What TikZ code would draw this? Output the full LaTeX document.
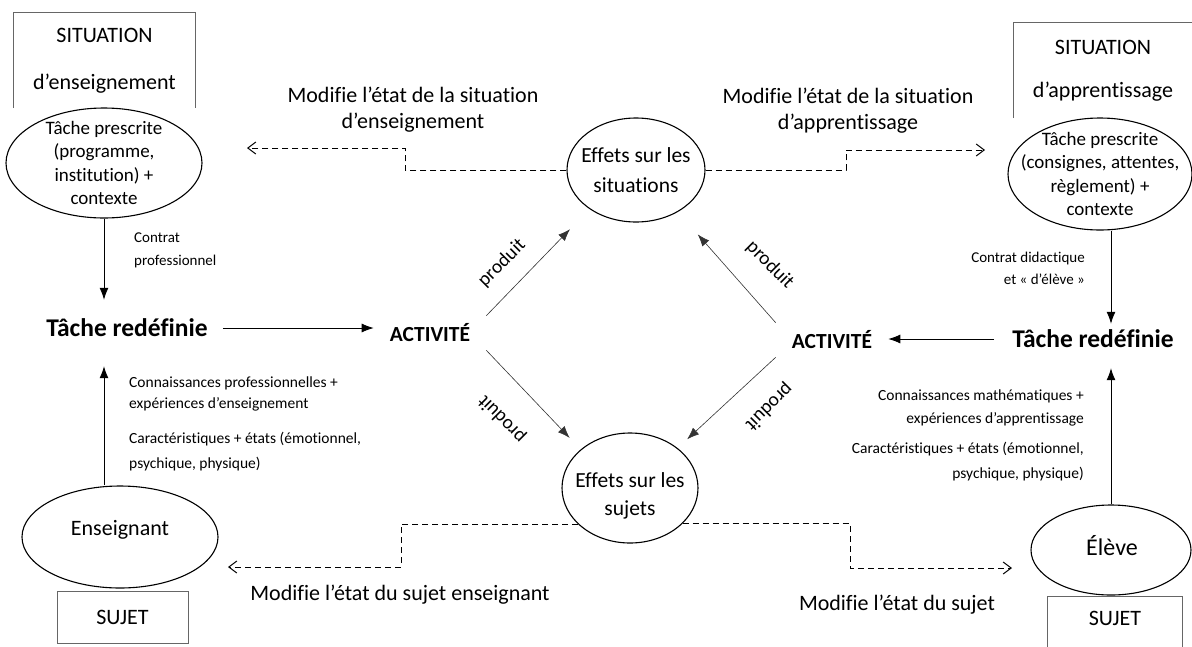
\documentclass[tikz,border=0pt]{standalone}
\usepackage{fontspec}
\setmainfont{Carlito}[Ligatures={NoCommon,NoContextual}]
\usetikzlibrary{shapes.geometric,arrows.meta}

\begin{document}
\begin{tikzpicture}[
	x=1pt, y=-1pt,
	oval/.style={draw, ellipse, fill=white, line width=1.1pt, inner sep=0pt},
	txt/.style={align=center, inner sep=0pt, font=\fontsize{19}{23.5}\selectfont},
	cadre/.style={align=center, inner sep=0pt, font=\fontsize{22}{47}\selectfont},
	trait/.style={line width=0.8pt, black!60},
	gras/.style={inner sep=2pt, font=\fontsize{25.5}{28}\selectfont\bfseries},
	act/.style={inner xsep=16pt, inner ysep=8pt, font=\fontsize{21.5}{24}\selectfont\bfseries},
	petit/.style={inner sep=0pt, font=\fontsize{15}{22}\selectfont},
	modif/.style={align=center, inner sep=0pt, font=\fontsize{22}{26}\selectfont},
	rot/.style={inner sep=0pt, font=\fontsize{19.5}{22}\selectfont},
	fl/.style={line width=0.8pt, -{Latex[length=12pt,width=9pt]}},
	prod/.style={line width=0.6pt, black!80, -{Latex[length=12pt,width=9pt]}},
	pointille/.style={line width=1pt, dash pattern=on 6pt off 4pt, -{Straight Barb[length=8pt,width=12pt]}}
	]
	\useasboundingbox (0,0) rectangle (1192,646);
	% situations
	\node[cadre, minimum width=181pt, minimum height=95pt] (sitL) at (104.5,60.5) {SITUATION\\d’enseignement};
	\draw[trait] (sitL.south west) |- (sitL.north east) -- (sitL.south east);
	\node[cadre, minimum width=178pt, minimum height=95pt, font=\fontsize{22}{43}\selectfont] (sitR) at (1103,70.5) {SITUATION\\d’apprentissage};
	\draw[trait] (sitR.south west) |- (sitR.north east);

	\node[oval, minimum width=196pt, minimum height=110pt] (taskPL) at (104,163) {};
	\node[txt] (taskPLt) at (taskPL) {Tâche prescrite\\(programme,\\institution) +\\contexte};
	\node[oval, minimum width=184pt, minimum height=112pt] (taskPR) at (1100,174) {};
	\node[txt] (taskPRt) at (taskPR) {Tâche prescrite\\(consignes, attentes,\\règlement) +\\contexte};

	\node[oval, minimum width=138pt, minimum height=104pt] (effSit) at (636,170) {};
	\node[txt, font=\fontsize{21.5}{30}\selectfont] (effSitt) at (effSit) {Effets sur les\\situations};
	\node[oval, minimum width=136pt, minimum height=110pt] (effSuj) at (630,488) {};
	\node[txt, font=\fontsize{21.5}{28}\selectfont] (effSujt) at ([yshift=-8pt]effSuj) {Effets sur les\\sujets};

	% sujets
	\node[oval, minimum width=196pt, minimum height=102pt] (ens) at (120,537) {};
	\node[txt, font=\fontsize{22}{24}\selectfont] (enst) at (120,530) {Enseignant};
	\node[draw, trait, text=black, minimum width=131pt, minimum height=52pt, font=\fontsize{22}{24}\selectfont] (sujL) at (122.5,617) {SUJET};
	\node[oval, minimum width=160pt, minimum height=90pt] (eleve) at (1111,550) {};
	\node[txt, font=\fontsize{24}{26}\selectfont] (elevet) at (1112,546) {Élève};
	\node[minimum width=134pt, minimum height=42pt, inner sep=0pt, font=\fontsize{22}{24}\selectfont] (sujR) at (1115,618) {SUJET};
	\draw[trait] ([yshift=-10pt]sujR.south west) |- (sujR.north east) -- ([yshift=-10pt]sujR.south east);

	% taches et activites
	\node[gras] (tacheL) at (127,328) {Tâche redéfinie};
	\node[gras] (tacheR) at (1093,339) {Tâche redéfinie};
	\node[act] (actL) at (430,333) {ACTIVITÉ};
	\node[act] (actR) at (832,340) {ACTIVITÉ};

	\draw[fl, shorten >=17pt] (taskPL.south) -- (taskPL.south |- tacheL.north);
	\draw[fl, shorten >=27pt] (taskPL.south |- ens.north) -- (taskPL.south |- tacheL.south);
	\draw[fl, shorten >=4pt] (taskPR.south -| eleve.north) -- (eleve.north |- tacheR.north);
	\draw[fl, shorten >=18pt] (eleve.north) -- (eleve.north |- tacheR.south);
	\draw[fl, shorten <=13pt] (tacheL.east) -- (tacheL.east -| actL.west);
	\draw[fl, shorten <=16pt] (tacheR.west) -- (tacheR.west -| actR.east);

	\foreach \a/\b/\s in {actL.north east/effSit.220/28pt, actR.north west/effSit.-45/30pt,
		actL.south east/effSuj.142/16pt, actR.south west/effSuj.40/13pt}
		\draw[prod, shorten >=\s] (\a) -- (\b);
	\node[rot, rotate=45] (pr1) at (502,263) {produit};
	\node[rot, rotate=-45] (pr2) at (770,265) {produit};
	\node[rot, rotate=135] (pr3) at (502,419) {produit};
	\node[rot, rotate=-135] (pr4) at (769,407) {produit};

	% modifications
	\coordinate (pTL) at (405,148);
	\coordinate (mTL) at (247,148);
	\coordinate (pTR) at (846,150);
	\coordinate (mTR) at (985,150);
	\coordinate (pBL) at (401,567);
	\coordinate (mBL) at (228,567);
	\coordinate (pBR) at (850,568);
	\coordinate (mBR) at (1012,568);
	\draw[pointille] (effSit.west) -| (pTL) -- (mTL);
	\draw[pointille] (effSit.east) -| (pTR) -- (mTR);
	\draw[pointille] (effSuj.215) -| (pBL) -- (mBL);
	\draw[pointille] (effSuj.-34) -| (pBR) -- (mBR);
	\node[modif] (lblTL) at (413,110) {Modifie l’état de la situation\\d’enseignement};
	\node[modif] (lblTR) at (848,111) {Modifie l’état de la situation\\d’apprentissage};
	\node[modif] (lblBL) at (400,595) {Modifie l’état du sujet enseignant};
	\node[modif] (lblBR) at (897,605) {Modifie l’état du sujet};

	% petits textes
	\node[petit, anchor=west, align=left, font=\fontsize{15}{23}\selectfont] (ctrL) at (134,250) {Contrat\\professionnel};
	\node[petit, anchor=west, align=left, font=\fontsize{15.5}{21}\selectfont] (cnL) at (129,394) {Connaissances professionnelles +\\expériences d’enseignement};
	\node[petit, anchor=west, align=left, font=\fontsize{15.5}{25}\selectfont] (caL) at (129,452) {Caractéristiques + états (émotionnel,\\psychique, physique)};
	\node[petit, anchor=east, align=right] (ctrR) at (1085,268) {Contrat didactique\\et «~d’élève~»};
	\node[petit, anchor=east, align=right, font=\fontsize{15.5}{23}\selectfont] (cnR) at (1084,408) {Connaissances mathématiques +\\expériences d’apprentissage};
	\node[petit, anchor=east, align=right, font=\fontsize{15.5}{25}\selectfont] (caR) at (1084,462) {Caractéristiques + états (émotionnel,\\psychique, physique)};
\end{tikzpicture}
\end{document}
